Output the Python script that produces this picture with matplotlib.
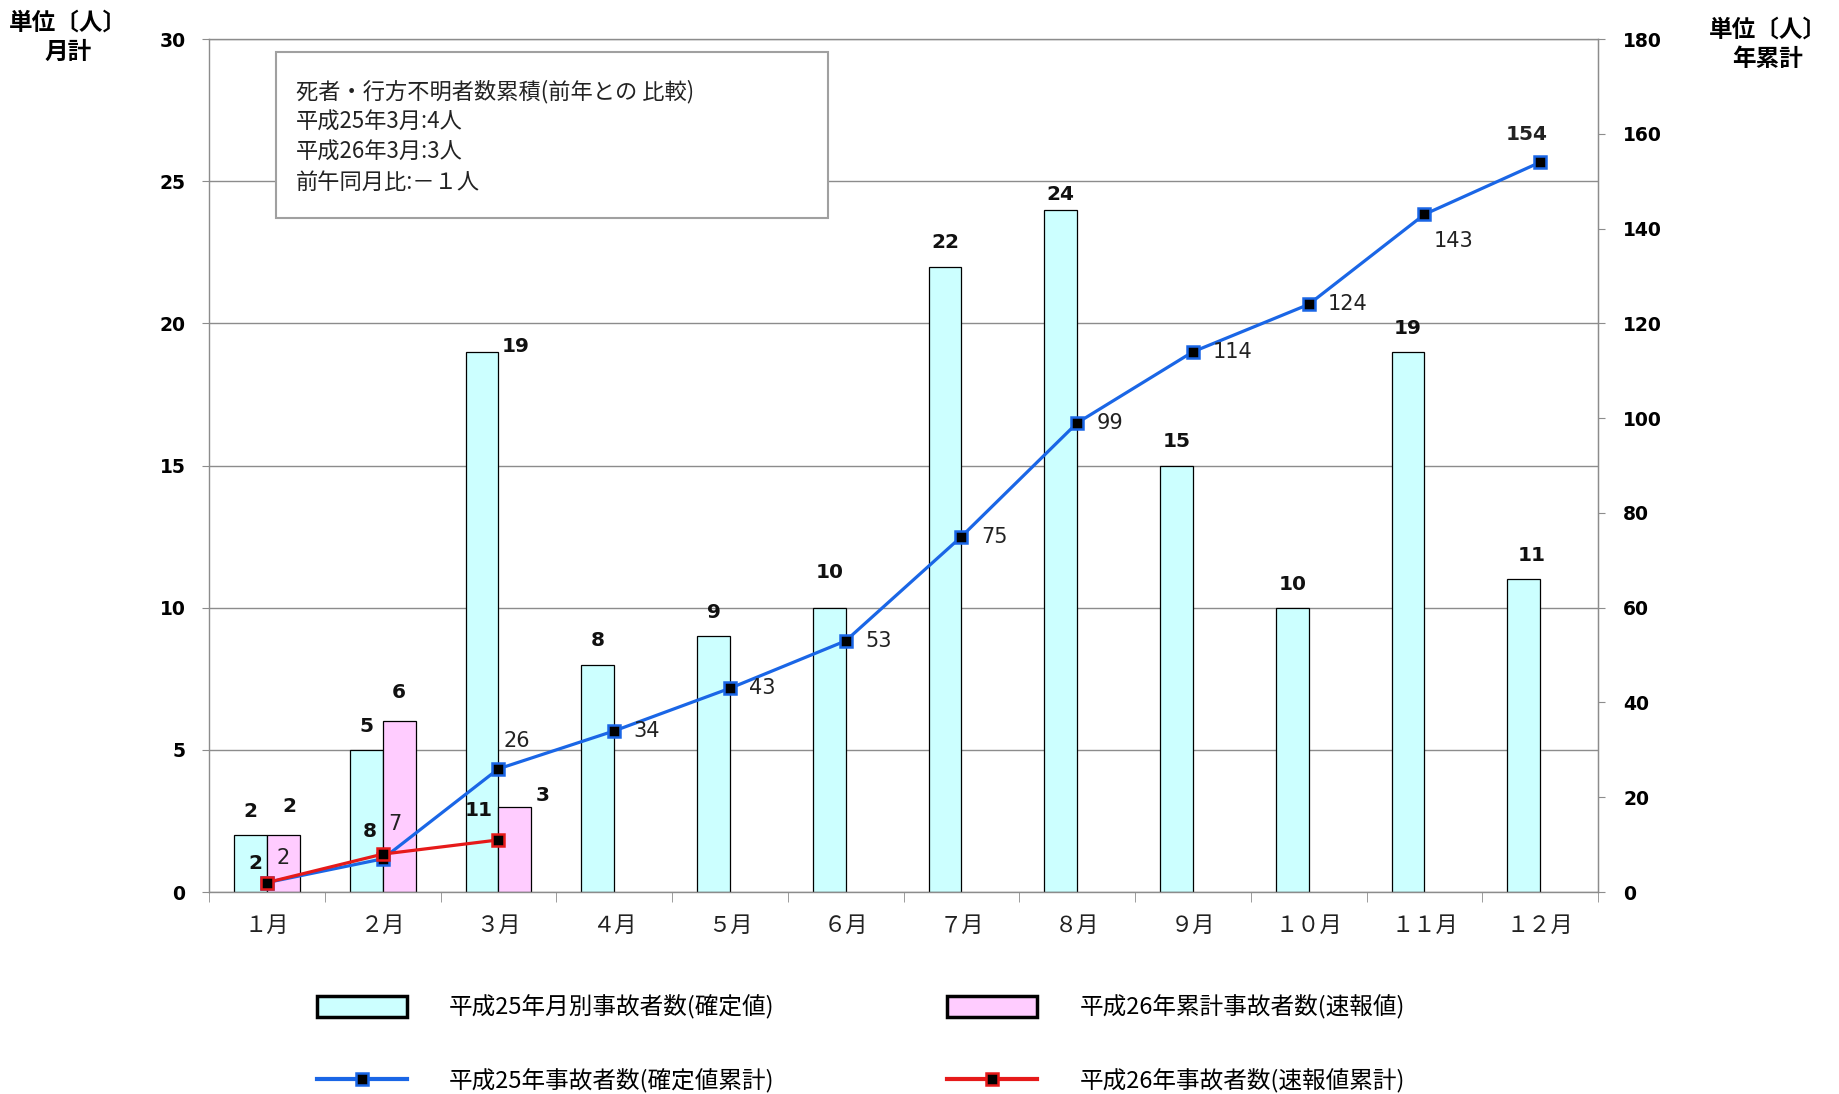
import numpy as np
import matplotlib.pyplot as plt
from matplotlib.patches import Patch, Rectangle
from matplotlib.lines import Line2D

plt.rcParams['font.family'] = ['DejaVu Sans', 'Noto Sans CJK JP']
JP = ['Noto Sans CJK JP', 'DejaVu Sans']

months = ['１月', '２月', '３月', '４月', '５月', '６月',
          '７月', '８月', '９月', '１０月', '１１月', '１２月']
h25_monthly = [2, 5, 19, 8, 9, 10, 22, 24, 15, 10, 19, 11]
h26_monthly = [2, 6, 3]
h25_cum = [2, 7, 26, 34, 43, 53, 75, 99, 114, 124, 143, 154]
h26_cum = [2, 8, 11]

legend_labels = ['平成25年月別事故者数(確定値)', '平成25年事故者数(確定値累計)',
                 '平成26年累計事故者数(速報値)', '平成26年事故者数(速報値累計)']
box_text = '死者・行方不明者数累積(前年との 比較)\n平成25年3月:4人\n平成26年3月:3人\n前午同月比:－１人'

cyan = '#CCFFFF'
pink = '#FFCCFF'
blue = '#1A66E6'
red = '#E61A1A'
gray = '#8C8C8C'

fig = plt.figure(figsize=(18.4, 10.94), dpi=100)
ax = fig.add_axes([0.1136, 0.1846, 0.7549, 0.7797])
ax2 = ax.twinx()

x = np.arange(len(months))
x26 = np.arange(len(h26_monthly))
w = 0.284

ax.bar(x - w / 2, h25_monthly, width=w, color=cyan, edgecolor='black', linewidth=0.9, zorder=2)
ax.bar(x26 + w / 2, h26_monthly, width=w, color=pink, edgecolor='black', linewidth=0.9, zorder=2)

ax.set_xlim(-0.5, 11.5)
ax.set_ylim(0, 30)
ax.set_yticks(np.arange(0, 31, 5))
ax.grid(axis='y', color=gray, linewidth=1)
ax.set_axisbelow(True)

ax.set_xticks(x)
ax.set_xticklabels(months, family=JP, fontsize=16, color='#222222')
ax.set_xticks(np.arange(-0.5, 12, 1), minor=True)
ax.tick_params(axis='x', which='major', length=0, pad=16)
ax.tick_params(axis='x', which='minor', length=7, color=gray, direction='out')
ax.tick_params(axis='y', length=5, color=gray, pad=12, labelsize=13.5)
for t in ax.get_yticklabels():
    t.set_fontweight('bold')

for s in ['left', 'right', 'top', 'bottom']:
    ax.spines[s].set_color(gray)
    ax.spines[s].set_linewidth(1)

# lines on right axis
ax2.plot(x, h25_cum, color=blue, linewidth=2.3, marker='s', markersize=9,
         markerfacecolor='black', markeredgecolor=blue, markeredgewidth=1.8, zorder=3)
ax2.plot(x26, h26_cum, color=red, linewidth=2.3, marker='s', markersize=9,
         markerfacecolor='black', markeredgecolor=red, markeredgewidth=1.8, zorder=4)
ax2.set_ylim(0, 180)
ax2.set_yticks(np.arange(0, 181, 20))
ax2.tick_params(axis='y', length=5, color=gray, pad=13, labelsize=13.5)
for t in ax2.get_yticklabels():
    t.set_fontweight('bold')
for s in ['left', 'top', 'bottom']:
    ax2.spines[s].set_visible(False)
ax2.spines['right'].set_color(gray)

# bar labels
bar_off = [(0, 17)] * 12
bar_off[2] = (24, 4)
bar_off[5] = (0, 25)
bar_off[7] = (0, 11)
bar_off[11] = (6, 17)
for i, v in enumerate(h25_monthly):
    ax.annotate(str(v), (x[i] - w / 2, v), xytext=bar_off[i], textcoords='offset points',
                ha='center', va='center', fontsize=14.5, fontweight='bold', color='#111111')

pink_off = [(4, 21), (0, 21), (20, 8)]
for i, v in enumerate(h26_monthly):
    ax.annotate(str(v), (x26[i] + w / 2, v), xytext=pink_off[i], textcoords='offset points',
                ha='center', va='center', fontsize=14.5, fontweight='bold', color='#111111')

# cumulative labels
cum_off = [(12, 18, 'center'), (8.5, 25, 'center'), (13, 20, 'center')] + \
          [(14, 0, 'left')] * 7 + [(21, -19, 'center'), (-10, 20, 'center')]
for i, v in enumerate(h25_cum):
    dx, dy, ha = cum_off[i]
    bold = i == len(h25_cum) - 1
    ax2.annotate(str(v), (x[i], v), xytext=(dx, dy), textcoords='offset points',
                 ha=ha, va='center', fontsize=14.5 if bold else 15,
                 fontweight='bold' if bold else 'normal', color='#222222', zorder=5)

red_off = [(-8.5, 13.5), (-9, 16), (-14, 21)]
for i, v in enumerate(h26_cum):
    ax2.annotate(str(v), (x26[i], v), xytext=red_off[i], textcoords='offset points',
                 ha='center', va='center', fontsize=14.5, fontweight='bold', color='#111111', zorder=5)

# comparison box
ax2.add_patch(Rectangle((0.0482, 0.7902), 0.3975, 0.1946, transform=ax2.transAxes,
                        facecolor='white', edgecolor='#A0A0A0', linewidth=1.5, zorder=6))
ax2.text(0.0626, 0.952, box_text, transform=ax2.transAxes, ha='left', va='top',
         family=JP, fontsize=16, linespacing=1.4, color='#222222', zorder=7)

# unit labels
fig.text(68 / 1840, 1 - 37 / 1094, '単位〔人〕\n月計', ha='center', va='center',
         family=JP, fontsize=17, fontweight='bold', linespacing=1.3)
fig.text(1768 / 1840, 1 - 44 / 1094, '単位〔人〕\n年累計', ha='center', va='center',
         family=JP, fontsize=17, fontweight='bold', linespacing=1.3)

handles = [
    Patch(facecolor=cyan, edgecolor='black', linewidth=2.5),
    Line2D([], [], color=blue, linewidth=3, marker='s', markersize=9,
           markerfacecolor='black', markeredgecolor=blue, markeredgewidth=1.8),
    Patch(facecolor=pink, edgecolor='black', linewidth=2.5),
    Line2D([], [], color=red, linewidth=3, marker='s', markersize=9,
           markerfacecolor='black', markeredgecolor=red, markeredgewidth=1.8),
]
fig.legend(handles, legend_labels, ncol=2, loc='upper left',
           bbox_to_anchor=(317 / 1840, 1 - 995 / 1094), frameon=False,
           prop={'family': JP, 'size': 17}, handlelength=3.8, handleheight=1.0,
           handletextpad=1.8, columnspacing=7.3, labelspacing=2.1,
           borderpad=0, borderaxespad=0)

fig.savefig('out.png', dpi=100)
